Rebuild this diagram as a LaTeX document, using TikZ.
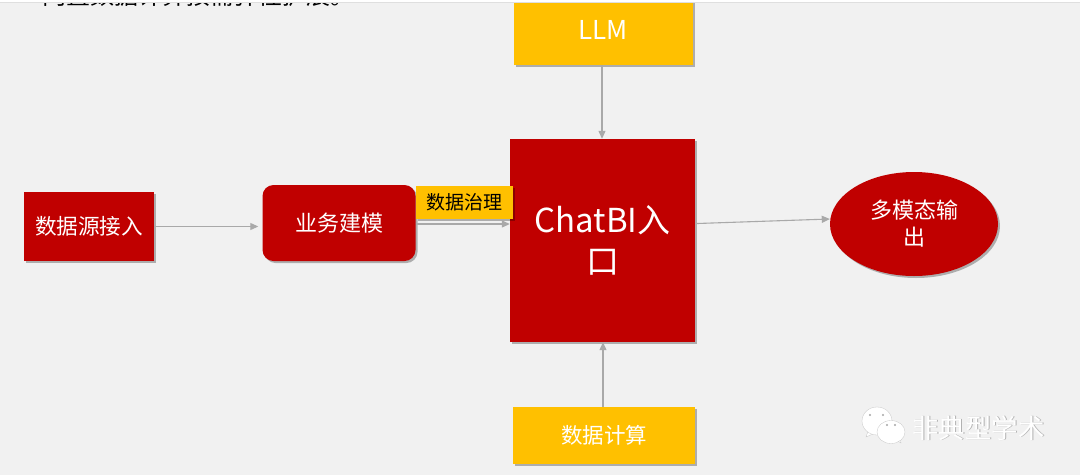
\documentclass[tikz,border=0pt]{standalone}
\usepackage{fontspec}
\setmainfont{Noto Sans CJK SC}
\usetikzlibrary{shapes.geometric,shadows,arrows.meta}
\definecolor{pagegray}{HTML}{F1F1F1}
\definecolor{boxred}{HTML}{C00000}
\definecolor{boxyellow}{HTML}{FFC000}
\definecolor{linkgray}{HTML}{A9A9A9}
\tikzset{
  softshadow/.style={drop shadow={shadow xshift=2pt,shadow yshift=-2pt,fill=black,opacity=.28}},
  redbox/.style={fill=boxred,text=white,inner sep=0pt,softshadow},
  yellowbox/.style={fill=boxyellow,inner sep=0pt,softshadow},
  link/.style={draw=linkgray,line width=1.1pt,-{Triangle[length=8pt,width=7pt]}}
}
\begin{document}
\begin{tikzpicture}[x=1pt,y=-1pt]
  \useasboundingbox (0,0) rectangle (1080,475);
  \fill[pagegray] (0,0) rectangle (1080,475);
  % clipped line of text at the top
  \begin{scope}
    \clip (0,3) rectangle (1080,475);
    \node[anchor=base west,inner sep=0pt,font=\fontsize{24}{24}\selectfont] (cuttext) at (42,4) {内置数据计算按需弹性扩展。};
  \end{scope}

  \node[redbox,minimum width=130pt,minimum height=69pt,font=\fontsize{21.6}{26}\selectfont] (source) at (89,226.5) {数据源接入};
  \node[redbox,rounded corners=11pt,minimum width=153pt,minimum height=76pt,font=\fontsize{22}{26}\selectfont] (model) at (339,223) {业务建模};
  \node[redbox,minimum width=185pt,minimum height=203pt,align=center,font=\fontsize{33}{41}\selectfont] (chatbi) at (602.5,240.5) {ChatBI入\\口};
  \node[yellowbox,minimum width=97pt,minimum height=33pt,font=\fontsize{19}{23}\selectfont] (govern) at (464.5,202) {数据治理};
  \node[yellowbox,text=white,minimum width=179pt,minimum height=70pt,font=\fontsize{26}{30}\selectfont] (llm) at (603,30) {LLM};
  \node[yellowbox,text=white,minimum width=182pt,minimum height=57pt,font=\fontsize{21.5}{26}\selectfont] (compute) at (604,435.5) {数据计算};
  \node[redbox,ellipse,minimum width=168pt,minimum height=104pt,align=center,font=\fontsize{22}{27}\selectfont] (output) at (914,224) {多模态输\\出};

  \fill[white] (0,0) rectangle (1080,2);
  \draw[gray!25,line width=.8pt] (0,2.5) -- (1080,2.5);

  \draw[link,shorten >=4pt] (source.east) -- (source.east -| model.west);
  \draw[link] ([yshift=-1pt]model.east) -- ([yshift=-1pt]model.east -| chatbi.west);
  \draw[link] ([yshift=17pt,xshift=2pt]chatbi.east) -- ([yshift=5pt]output.west);
  \draw[link] ([xshift=-1pt]llm.south) -- ([xshift=-1pt]llm.south |- chatbi.north);
  \draw[link] ([xshift=-1pt]compute.north) -- ([xshift=-1pt]compute.north |- chatbi.south);

  % watermark
  \fill[white,draw=gray!45,line width=.3pt] (868,431) -- (866,437) -- (875,433) -- cycle;
  \fill[white,draw=gray!45,line width=.3pt] (877,421) ellipse (15pt and 14pt);
  \fill[white,draw=gray!45,line width=.3pt] (896,440) -- (901,443) -- (900,437) -- cycle;
  \fill[white,draw=gray!45,line width=.3pt] (891,432) ellipse (14pt and 11.5pt);
  \fill[gray!70] (870,415) circle (1.2pt) (883,415) circle (1.2pt) (887,425) circle (1.1pt) (895,425) circle (1.1pt);
  \node[text=gray!60,inner sep=0pt,font=\fontsize{26.5}{30}\selectfont] (markshade) at (979.4,428.8) {非典型学术};
  \node[text=white,inner sep=0pt,font=\fontsize{26.5}{30}\selectfont] (mark) at (978.5,428) {非典型学术};
\end{tikzpicture}
\end{document}
